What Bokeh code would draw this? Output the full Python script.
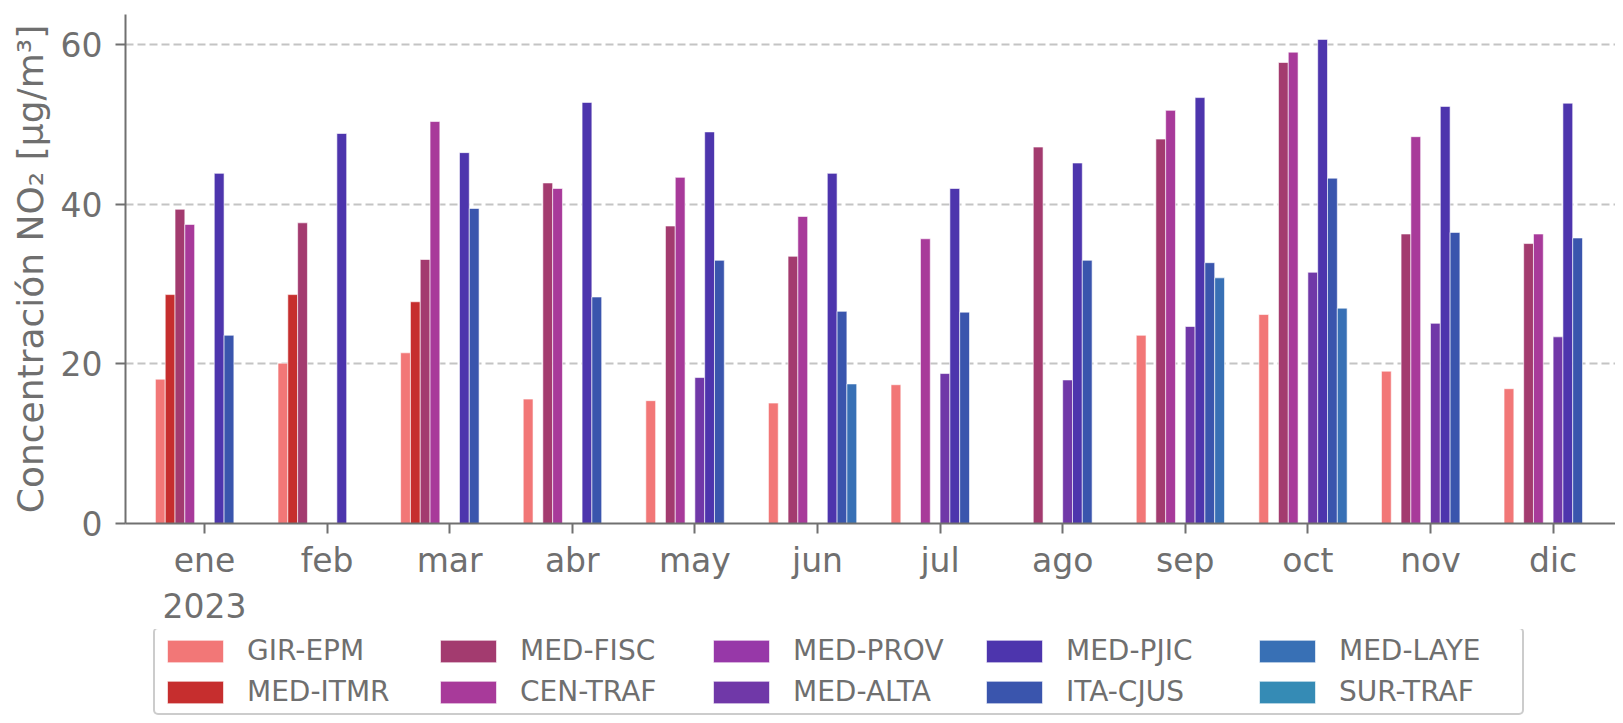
import numpy as np
from bokeh.plotting import figure
from bokeh.layouts import column
from bokeh.models import ColumnDataSource, FixedTicker, Legend, LegendItem, Range1d
from bokeh.transform import dodge
from bokeh.embed import file_html
from bokeh.resources import INLINE

months = ["ene", "feb", "mar", "abr", "may", "jun", "jul", "ago", "sep", "oct", "nov", "dic"]
year_label = "2023"
stations = ["GIR-EPM", "MED-ITMR", "MED-FISC", "CEN-TRAF", "MED-PROV",
            "MED-ALTA", "MED-PJIC", "ITA-CJUS", "MED-LAYE", "SUR-TRAF"]
colors = ["#F27777", "#C62E2E", "#A33B6F", "#A83A9A", "#9738A8",
          "#7038A8", "#4D35AD", "#3A55AD", "#3870B5", "#358BB5"]

N = None
gir_epm = [18.1, 20.1, 21.4, 15.6, 15.4, 15.1, 17.4, N, 23.6, 26.2, 19.1, 16.9]
med_itmr = [28.7, 28.7, 27.8, N, N, N, N, N, N, N, N, N]
med_fisc = [39.4, 37.7, 33.1, 42.7, 37.3, 33.5, N, 47.2, 48.2, 57.8, 36.3, 35.1]
cen_traf = [37.5, N, 50.4, 42.0, 43.4, 38.5, 35.7, N, 51.8, 59.1, 48.5, 36.3]
med_prov = [N, N, N, N, N, N, N, N, N, N, N, N]
med_alta = [N, N, N, N, 18.3, N, 18.8, 18.0, 24.7, 31.5, 25.1, 23.4]
med_pjic = [43.9, 48.9, 46.5, 52.8, 49.1, 43.9, 42.0, 45.2, 53.4, 60.7, 52.3, 52.7]
ita_cjus = [23.6, N, 39.5, 28.4, 33.0, 26.6, 26.5, 33.0, 32.7, 43.3, 36.5, 35.8]
med_laye = [N, N, N, N, N, 17.5, N, N, 30.8, 27.0, N, N]
sur_traf = [N, N, N, N, N, N, N, N, N, N, N, N]

series = [gir_epm, med_itmr, med_fisc, cen_traf, med_prov,
          med_alta, med_pjic, ita_cjus, med_laye, sur_traf]

FONT = "DejaVu Sans"
TXT = "#6f6f6f"

data = {"x": list(range(len(months)))}
for name, vals in zip(stations, series):
    data[name] = np.array([np.nan if v is None else v for v in vals], dtype=float)
source = ColumnDataSource(data)

p = figure(width=1615, height=629,
           x_range=Range1d(-0.644, 11.509), y_range=Range1d(0, 63.82),
           output_backend="svg", toolbar_location=None,
           min_border_left=125, min_border_top=14, min_border_right=0, min_border_bottom=0)

bw = 0.08
n = len(stations)
for j, (name, col) in enumerate(zip(stations, colors)):
    p.vbar(x=dodge("x", (j - (n - 1) / 2) * bw, range=p.x_range), top=name, width=bw,
           source=source, fill_color=col, line_color="white", line_width=1, line_alpha=0.6)

p.xaxis.ticker = FixedTicker(ticks=list(range(len(months))))
ov = {i: m for i, m in enumerate(months)}
ov[0] = months[0] + "\n" + year_label
p.xaxis.major_label_overrides = ov
p.yaxis.ticker = FixedTicker(ticks=[0, 20, 40, 60])
p.yaxis.axis_label = "Concentración NO₂ [μg/m³]"

for ax in (p.xaxis, p.yaxis):
    ax.axis_line_color = "#707070"
    ax.axis_line_width = 2
    ax.major_tick_line_color = "#707070"
    ax.major_tick_line_width = 2
    ax.major_tick_out = 10
    ax.major_tick_in = 0
    ax.minor_tick_line_color = None
    ax.major_label_text_font = FONT
    ax.major_label_text_font_size = "33px"
    ax.major_label_text_color = TXT
    ax.axis_label_text_font = FONT
    ax.axis_label_text_font_size = "36px"
    ax.axis_label_text_font_style = "normal"
    ax.axis_label_text_color = TXT

p.xaxis.major_label_standoff = 7
p.xaxis.axis_label_standoff = 0
p.yaxis.major_label_standoff = 13
p.yaxis.axis_label_standoff = 7

p.xgrid.grid_line_color = None
p.ygrid.grid_line_color = "#c4c4c4"
p.ygrid.grid_line_dash = "8 4"
p.ygrid.grid_line_width = 2
p.outline_line_color = None

# legend strip below the chart (proxy renderers carry a single empty value)
lg = figure(width=1615, height=86, x_range=Range1d(0, 1), y_range=Range1d(0, 1),
            output_backend="svg", toolbar_location=None,
            x_axis_location=None, y_axis_location=None,
            min_border_left=125, min_border_right=0, min_border_top=0, min_border_bottom=0)
lg.grid.grid_line_color = None
lg.outline_line_color = None
proxy = ColumnDataSource(data=dict(x=[0.5], top=[np.nan]))
items = []
for name, col in zip(stations, colors):
    r = lg.vbar(x="x", top="top", width=bw, source=proxy,
                fill_color=col, line_color="white", line_width=1, line_alpha=0.6)
    items.append(LegendItem(label=name, renderers=[r]))

legend = Legend(items=items, orientation="vertical", nrows=2,
                location=(28, 0), margin=0, padding=5, spacing=8,
                glyph_width=70, glyph_height=28, label_standoff=17, label_width=178,
                label_text_font=FONT, label_text_font_size="28px", label_text_color=TXT,
                border_line_color="#999999", border_line_width=2,
                background_fill_color="white", background_fill_alpha=1.0)
if "border_radius" in Legend.properties():
    legend.border_radius = 5
lg.add_layout(legend)

layout = column(p, lg, spacing=0)
open("out.html", "w").write(file_html(layout, INLINE))
